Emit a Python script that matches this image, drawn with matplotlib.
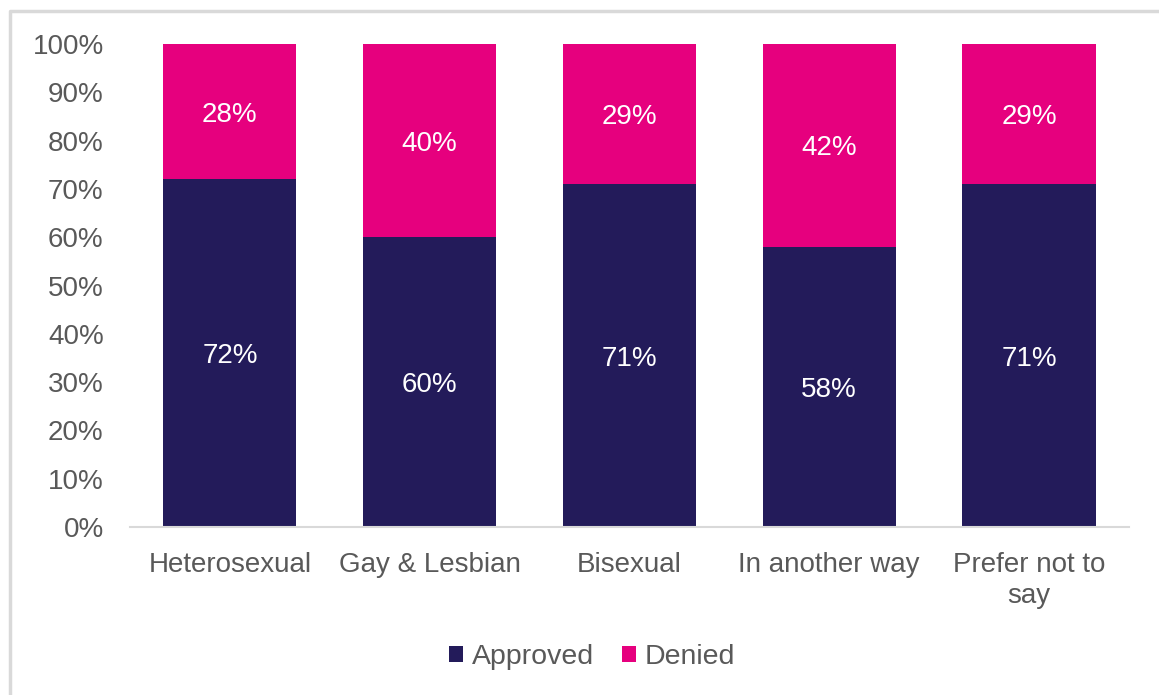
import matplotlib.pyplot as plt
from matplotlib.lines import Line2D
from matplotlib.ticker import PercentFormatter

categories = ["Heterosexual", "Gay & Lesbian", "Bisexual", "In another way", "Prefer not to\nsay"]
approved = [72, 60, 71, 58, 71]
denied = [28, 40, 29, 42, 29]

NAVY = "#231B5A"
PINK = "#E6007E"
GREY = "#595959"
FS = 20

plt.rcParams["font.family"] = ["Liberation Sans", "DejaVu Sans"]

fig = plt.figure(figsize=(11.59, 6.95), dpi=100)
ax = fig.add_axes([0.1122, 0.2417, 0.8618, 0.695])

# light frame: only top and left edges are visible in the crop
bx, by = 9.5 / 1159, 1 - 10.5 / 695
fig.lines.append(Line2D([bx, bx, 1.0], [0.0, by, by], transform=fig.transFigure,
                        color="#D9D9D9", linewidth=2.5))

x = range(len(categories))
w = 0.666
ax.bar(x, approved, width=w, color=NAVY, label="Approved")
ax.bar(x, denied, width=w, bottom=approved, color=PINK, label="Denied")

for i in x:
    ax.text(i, approved[i] / 2, f"{approved[i]}%", ha="center", va="center_baseline",
            color="white", fontsize=FS)
    ax.text(i, approved[i] + denied[i] / 2, f"{denied[i]}%", ha="center",
            va="center_baseline", color="white", fontsize=FS)

ax.set_xlim(-0.5, len(categories) - 0.5)
ax.set_ylim(0, 100)
ax.set_yticks(range(0, 101, 10))
ax.yaxis.set_major_formatter(PercentFormatter(decimals=0))
ax.set_xticks(list(x))
ax.set_xticklabels(categories, linespacing=1.25)
ax.tick_params(axis="both", length=0, labelsize=FS, labelcolor=GREY)
ax.tick_params(axis="y", pad=19)
ax.tick_params(axis="x", pad=18)
for s in ["top", "right", "left"]:
    ax.spines[s].set_visible(False)
ax.spines["bottom"].set_color("#D9D9D9")
ax.spines["bottom"].set_linewidth(1.5)

leg = fig.legend(loc="center", bbox_to_anchor=(592 / 1159, 1 - 657 / 695), ncol=2,
                 frameon=False, fontsize=20.5, handlelength=0.5, handleheight=0.5,
                 handletextpad=0.3, columnspacing=1.0)
for t in leg.get_texts():
    t.set_color(GREY)

fig.savefig("out.png", dpi=100)
